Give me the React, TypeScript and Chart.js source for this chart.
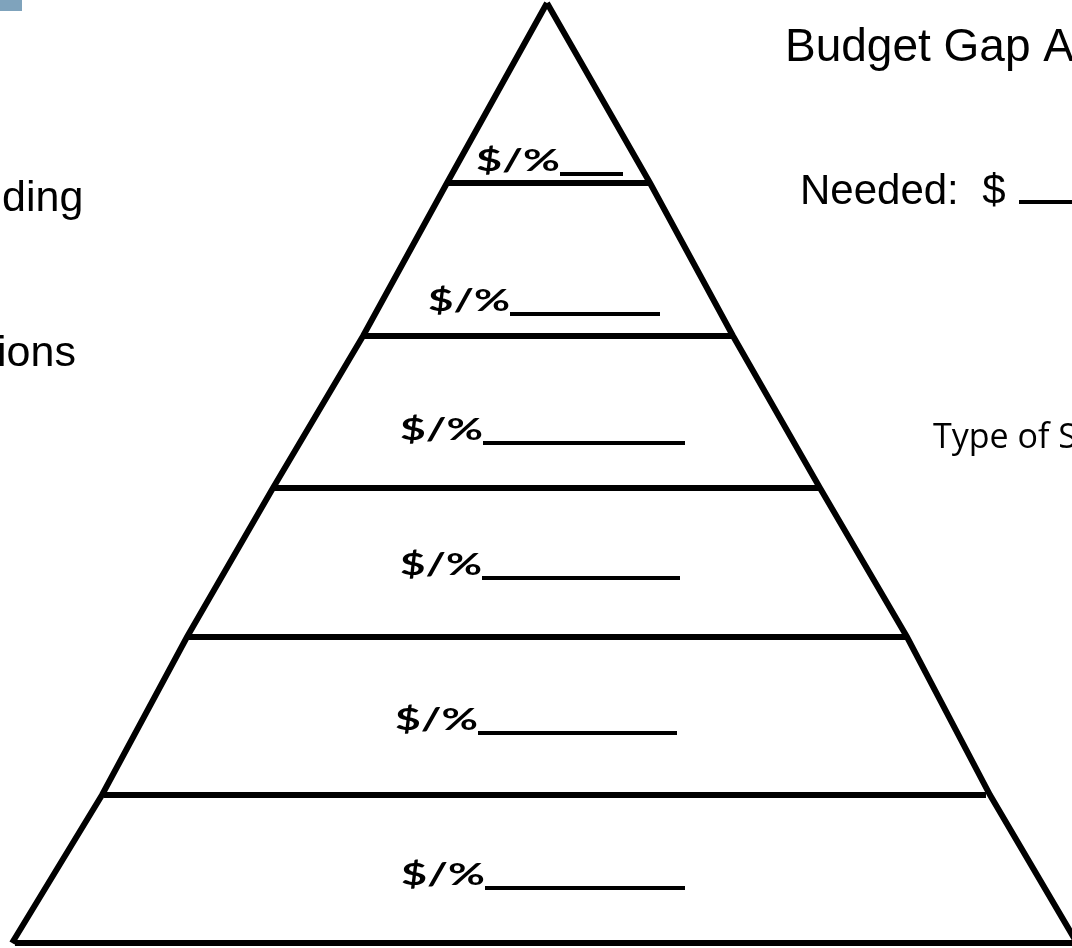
import React, { useEffect, useRef } from "react";
import { Chart, registerables } from "chart.js";

Chart.register(...registerables);

// ---- data (pyramid units: y = 0 at the base, 100 at the apex; x = 0 under the apex) ----
const tierLabels = ["$/%", "$/%", "$/%", "$/%", "$/%", "$/%"]; // top tier -> bottom tier
const levels = [0, 15.74, 32.55, 48.4, 64.57, 80.85, 100]; // base -> apex
const leftEdge = [-56.91, -47.34, -38.3, -29.15, -19.57, -10.64, 0];
const rightEdge = [56.38, 47.13, 38.3, 29.04, 19.79, 10.96, 0];
// horizontal bars: base first, then the five dividers upward
const barLeft = [-56.6, -47.13, -38.3, -29.15, -19.57, -10.64];
const barRight = [56.5, 46.7, 38.3, 29.04, 19.79, 10.96];
const leftTexts = ["ding", "ions"];
const titleText = "Budget Gap A";
const neededText = "Needed:  $";
const typeText = "Type of S";

// ---- layout (pixels) ----
const W = 1072;
const H = 948;
const X_RANGE = { min: -58.19, max: 55.85 };
const Y_RANGE = { min: -0.532, max: 100.32 };
const labelLayout = [
  { x: 476, base: 171, w: 84, end: 623 },
  { x: 428, base: 311, w: 82, end: 660 },
  { x: 400, base: 440, w: 83, end: 685 },
  { x: 400, base: 575, w: 82, end: 680 },
  { x: 395, base: 730, w: 83, end: 677 },
  { x: 401, base: 885, w: 84, end: 685 },
];

const textPlugin = {
  id: "pyramidText",
  afterDatasetsDraw(chart: any) {
    const ctx: CanvasRenderingContext2D = chart.ctx;
    ctx.save();
    ctx.fillStyle = "#000";
    ctx.strokeStyle = "#000";
    ctx.textBaseline = "alphabetic";
    ctx.textAlign = "left";

    // tier labels with blank lines
    tierLabels.forEach((t, i) => {
      const l = labelLayout[i];
      ctx.font = "bold 30px Lato";
      const m = ctx.measureText(t).width;
      ctx.save();
      ctx.translate(l.x, l.base);
      ctx.scale(l.w / m, 1);
      ctx.fillText(t, 0, 0);
      ctx.restore();
      ctx.lineWidth = 4;
      ctx.beginPath();
      ctx.moveTo(l.x + l.w, l.base + 3);
      ctx.lineTo(l.end, l.base + 3);
      ctx.stroke();
    });

    // side texts
    ctx.font = "46px 'Liberation Sans'";
    ctx.fillText(titleText, 785, 61);
    ctx.font = "42px 'Liberation Sans'";
    ctx.fillText(neededText, 800, 204);
    ctx.lineWidth = 4;
    ctx.beginPath();
    ctx.moveTo(1019, 202);
    ctx.lineTo(1072, 202);
    ctx.stroke();
    ctx.font = "43px 'Liberation Sans'";
    ctx.fillText(leftTexts[0], 2, 211);
    ctx.fillText(leftTexts[1], -3, 366);
    ctx.font = "34px 'Open Sans'";
    ctx.fillText(typeText, 933, 448);
    ctx.restore();
  },
};

export default function App() {
  const ref = useRef<HTMLCanvasElement | null>(null);

  useEffect(() => {
    if (!ref.current) return;
    const line = (pts: { x: number; y: number }[], width = 6) => ({
      data: pts,
      showLine: true,
      borderColor: "#000",
      borderWidth: width,
      borderCapStyle: "butt" as const,
      borderJoinStyle: "miter" as const,
      pointRadius: 0,
      pointHoverRadius: 0,
      fill: false,
      tension: 0,
    });
    const datasets: any[] = [
      line(levels.map((y, i) => ({ x: leftEdge[i], y }))),
      line(levels.map((y, i) => ({ x: rightEdge[i], y }))),
      ...barLeft.map((xl, i) =>
        line([
          { x: xl, y: levels[i] },
          { x: barRight[i], y: levels[i] },
        ])
      ),
    ];
    const chart = new Chart(ref.current, {
      type: "scatter",
      data: { datasets },
      options: {
        responsive: false,
        animation: false,
        events: [],
        layout: { padding: 0 },
        plugins: { legend: { display: false }, tooltip: { enabled: false } },
        scales: {
          x: { type: "linear", display: false, min: X_RANGE.min, max: X_RANGE.max },
          y: { type: "linear", display: false, min: Y_RANGE.min, max: Y_RANGE.max },
        },
      },
      plugins: [textPlugin],
    });
    return () => chart.destroy();
  }, []);

  return (
    <div style={{ position: "absolute", left: 0, top: 0, width: W, height: H, background: "#fff", overflow: "hidden" }}>
      <canvas ref={ref} width={W} height={H} style={{ display: "block", width: W, height: H }} />
      <div style={{ position: "absolute", left: 0, top: 0, width: 22, height: 11, background: "#7fa3bc" }} />
    </div>
  );
}
